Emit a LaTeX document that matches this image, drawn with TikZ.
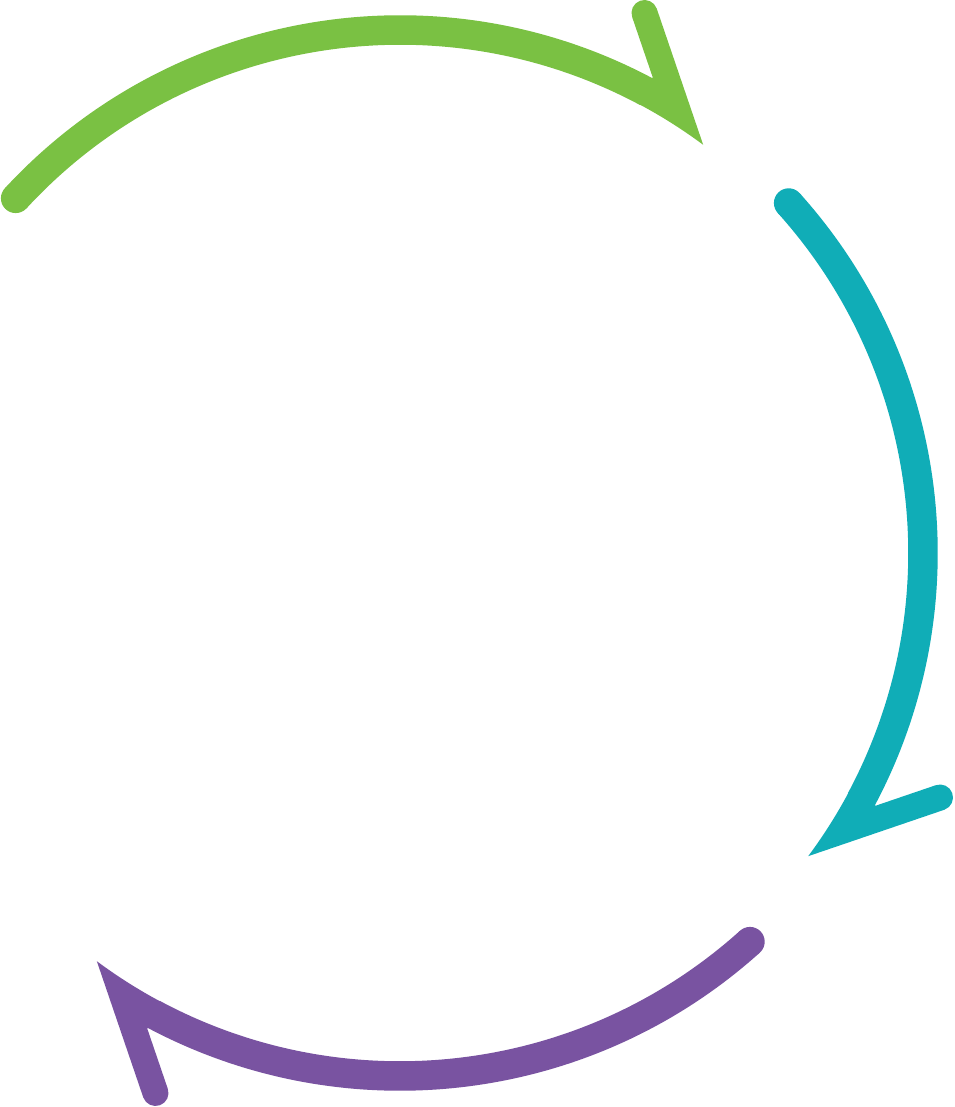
\documentclass[tikz,border=0pt]{standalone}
\definecolor{cgreen}{RGB}{122,193,67}
\definecolor{cteal}{RGB}{16,173,183}
\definecolor{cpurple}{RGB}{121,83,161}
\tikzset{band/.style={line width=29.5pt, line cap=butt}}
\newcommand\cyclehead{(53.4:508.5) arc[start angle=53.4, end angle=62.0, radius=508.5pt] -- (252.7,475.7) -- (232.3,535.5) arc[start angle=200.25, end angle=20.25, radius=13pt] -- cycle}
\newcommand\cyclearrow[3]{%
  \begin{scope}[rotate=#1]
    \draw[band,#2] (#3:523) arc[start angle=#3, end angle=61.8, radius=523pt];
    \fill[#2] (#3:523) circle[radius=14.75pt];
    \fill[#2] \cyclehead;
  \end{scope}}
\begin{document}
\begin{tikzpicture}[x=1pt,y=1pt]
\fill[white] (-400,-554) rectangle (554,553);
\useasboundingbox (-400,-554) rectangle (554,553);
\cyclearrow{0}{cgreen}{137.3}
\cyclearrow{-90}{cteal}{132}
\cyclearrow{-180}{cpurple}{132}
\end{tikzpicture}
\end{document}
